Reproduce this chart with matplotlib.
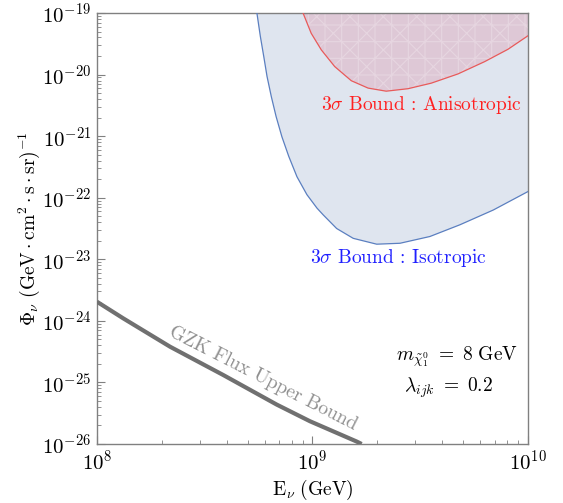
import numpy as np
import matplotlib
matplotlib.use("Agg")
import matplotlib.pyplot as plt

plt.rcParams['font.family'] = 'cmr10'
plt.rcParams['mathtext.fontset'] = 'cm'
plt.rcParams['axes.formatter.use_mathtext'] = True
plt.rcParams['hatch.linewidth'] = 0.8

# values as log10(E / GeV) and log10(flux)
# isotropic 3 sigma bound
iso_logE = [8.742, 8.758, 8.774, 8.789, 8.809, 8.831, 8.858, 8.890, 8.928, 8.974,
            9.021, 9.050, 9.112, 9.189, 9.298, 9.406, 9.545, 9.684, 9.839, 10.0]
iso_logF = [-19.0, -19.38, -19.71, -20.03, -20.36, -20.68, -21.01, -21.33, -21.66, -21.95,
            -22.17, -22.28, -22.50, -22.66, -22.755, -22.74, -22.63, -22.44, -22.20, -21.90]

# anisotropic 3 sigma bound
aniso_logE = [8.956, 8.994, 9.041, 9.103, 9.180, 9.258, 9.342, 9.443, 9.551, 9.675,
              9.799, 9.907, 10.0]
aniso_logF = [-19.0, -19.33, -19.60, -19.87, -20.10, -20.22, -20.27, -20.23, -20.14, -19.99,
              -19.79, -19.59, -19.37]

# GZK flux upper bound
gzk_logE = [8.0, 8.122, 8.339, 8.586, 8.834, 8.988, 9.205, 9.228]
gzk_logF = [-23.69, -23.96, -24.42, -24.88, -25.36, -25.63, -25.96, -26.0]

top = 1e-19

iso_E, iso_F = 10.0 ** np.array(iso_logE), 10.0 ** np.array(iso_logF)
an_E, an_F = 10.0 ** np.array(aniso_logE), 10.0 ** np.array(aniso_logF)
gzk_E, gzk_F = 10.0 ** np.array(gzk_logE), 10.0 ** np.array(gzk_logF)

fig = plt.figure(figsize=(5.63, 5.03), dpi=100)
ax = fig.add_axes([0.1723, 0.1173, 0.7655, 0.8569])

ax.fill_between(iso_E, iso_F, top, facecolor='#dfe5ef', edgecolor='none', zorder=1)
ax.plot(iso_E, iso_F, color='#5b7fc0', lw=0.9, zorder=3)

ax.fill_between(an_E, an_F, top, facecolor='#dec8d6', edgecolor='none', zorder=2)
ax.fill_between(an_E, an_F, top, facecolor='none', edgecolor=(1, 1, 1, 0.25),
                hatch='x+', linewidth=0, zorder=2)
ax.plot(an_E, an_F, color='#e85a5a', lw=0.9, zorder=3)

ax.plot(gzk_E, gzk_F, color='#707070', lw=3, solid_capstyle='butt', zorder=3)

ax.set_xscale('log')
ax.set_yscale('log')
ax.set_xlim(1e8, 1e10)
ax.set_ylim(1e-26, 1e-19)
ax.set_xticks([1e8, 1e9, 1e10])
ax.set_yticks([10.0 ** k for k in range(-26, -18)])

for s in ax.spines.values():
    s.set_color('#808080')
    s.set_linewidth(1.0)
ax.tick_params(which='both', direction='in', top=False, right=False, color='#808080')
ax.tick_params(which='major', length=6, width=0.8, labelsize=15, pad=4)
ax.tick_params(which='minor', length=3, width=0.6)

ax.set_xlabel(r'$\mathrm{E}_\nu\ \mathrm{(GeV)}$', fontsize=14, labelpad=3)
ax.set_ylabel(r'$\Phi_\nu\ (\mathrm{GeV}\cdot\mathrm{cm}^2\cdot\mathrm{s}\cdot\mathrm{sr})^{-1}$',
              fontsize=14, labelpad=0)

ax.text(3.2e9, 3.2e-21, r'$3\sigma$ Bound : Anisotropic', color='#ff2020', fontsize=14,
        ha='center', va='center', zorder=4)
ax.text(2.5e9, 1.05e-23, r'$3\sigma$ Bound : Isotropic', color='#2020ff', fontsize=14,
        ha='center', va='center', zorder=4)
ax.text(4.7e9, 2.6e-25, r'$m_{\tilde{\chi}_1^0}\ =\ 8\ \mathrm{GeV}$', fontsize=14,
        ha='center', va='center', zorder=4)
ax.text(4.26e9, 8.1e-26, r'$\lambda_{ijk}\ =\ 0.2$', fontsize=14,
        ha='center', va='center', zorder=4)
ax.text(5.9e8, 1.17e-25, 'GZK Flux Upper Bound', color='#909090', fontsize=14,
        rotation=-27, rotation_mode='anchor', ha='center', va='center', zorder=4)

fig.savefig('out.png', dpi=100)
